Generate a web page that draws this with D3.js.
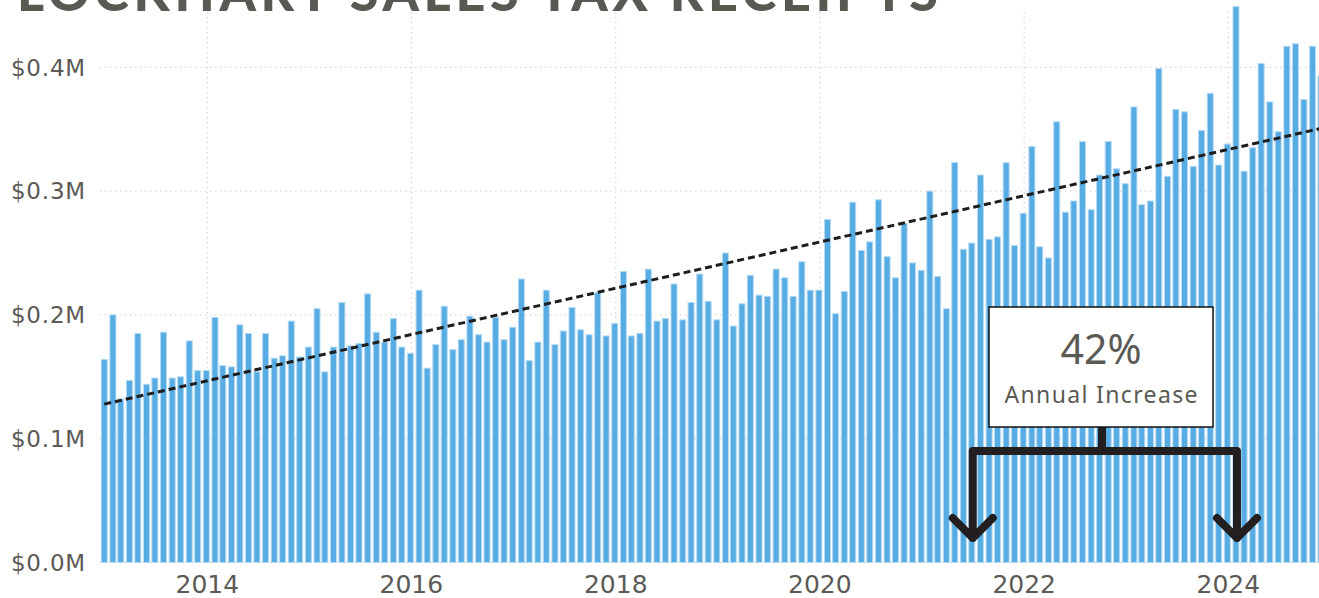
<!DOCTYPE html>
<html>
<head>
<meta charset="utf-8">
<script src="https://cdn.jsdelivr.net/npm/d3@7"></script>
<style>
  body { margin: 0; background: #fff; }
  svg { display: block; }
  .grid line { stroke: #cfcfcf; stroke-width: 1; stroke-dasharray: 1.5 3.5; }
  .axis-label { font-family: "DejaVu Sans", Verdana, sans-serif; fill: #5b5a56; }
</style>
</head>
<body>
<div class="chart"></div>
<script>
// monthly sales tax receipts, in thousands of dollars, Jan 2013 .. Dec 2024
const startYear = 2013;
const receipts2013 = [164, 200, 132, 147, 185, 144, 149, 186, 149, 150, 179, 155];
const receipts2014 = [155, 198, 159, 158, 192, 185, 154, 185, 165, 167, 195, 166];
const receipts2015 = [174, 205, 154, 174, 210, 175, 177, 217, 186, 178, 197, 174];
const receipts2016 = [169, 220, 157, 176, 207, 172, 180, 199, 184, 178, 198, 180];
const receipts2017 = [190, 229, 163, 178, 220, 176, 187, 206, 188, 184, 218, 183];
const receipts2018 = [193, 235, 183, 185, 237, 195, 197, 225, 196, 210, 233, 211];
const receipts2019 = [196, 250, 191, 209, 232, 216, 215, 237, 230, 215, 243, 220];
const receipts2020 = [220, 277, 201, 219, 291, 252, 259, 293, 247, 230, 274, 242];
const receipts2021 = [236, 300, 231, 205, 323, 253, 258, 313, 261, 263, 323, 256];
const receipts2022 = [282, 336, 255, 246, 356, 283, 292, 340, 285, 313, 340, 318];
const receipts2023 = [306, 368, 289, 292, 399, 312, 366, 364, 320, 349, 379, 321];
const receipts2024 = [338, 449, 316, 335, 403, 372, 348, 417, 419, 374, 417, 393];

const yTicks = [0, 100000, 200000, 300000, 400000];
const yearTicks = [2014, 2016, 2018, 2020, 2022, 2024];

const titleText = "LOCKHART SALES TAX RECEIPTS";
const annotationValue = "42%";
const annotationLabel = "Annual Increase";
const annotationFrom = new Date(2021, 6, 1);
const annotationTo = new Date(2024, 1, 1);

const yearly = [receipts2013, receipts2014, receipts2015, receipts2016, receipts2017, receipts2018,
  receipts2019, receipts2020, receipts2021, receipts2022, receipts2023, receipts2024];

let data = [];
yearly.forEach((vals, yi) => {
  vals.forEach((v, m) => {
    data.push({ date: new Date(startYear + yi, m, 1), value: v * 1000 });
  });
});

const width = 1319, height = 598;
const plotLeft = 100;

const svg = d3.select(".chart").append("svg")
  .attr("width", width)
  .attr("height", height);

const xScale = d3.scaleTime()
  .domain([new Date(2014, 0, 1), new Date(2024, 0, 1)])
  .range([207.3, 1228.3]);

const yScale = d3.scaleLinear()
  .domain([0, 400000])
  .range([562.5, 67.3]);

// title, mostly cut off at the top (as in the source crop)
svg.append("text")
  .attr("x", 17)
  .attr("y", 11)
  .attr("textLength", 921)
  .attr("lengthAdjust", "spacing")
  .style("font-family", "Lato, 'Open Sans', sans-serif")
  .style("font-weight", 900)
  .style("font-size", "52px")
  .style("fill", "#5a5852")
  .text(titleText);

// gridlines
const grid = svg.append("g").attr("class", "grid");
grid.selectAll(".hgrid")
  .data(yTicks)
  .enter().append("line")
  .attr("x1", plotLeft)
  .attr("x2", width)
  .attr("y1", d => yScale(d))
  .attr("y2", d => yScale(d));

grid.selectAll(".vgrid")
  .data(yearTicks)
  .enter().append("line")
  .attr("x1", d => xScale(new Date(d, 0, 1)))
  .attr("x2", d => xScale(new Date(d, 0, 1)))
  .attr("y1", 12)
  .attr("y2", yScale(0));

// bars
svg.append("g")
  .selectAll(".bar")
  .data(data)
  .enter().append("rect")
  .attr("class", "bar")
  .attr("x", d => xScale(d.date) - 4)
  .attr("y", d => yScale(d.value))
  .attr("width", 6)
  .attr("height", d => yScale(0) - yScale(d.value))
  .style("fill", "#57ace3")
  .style("stroke", "#b4daf4")
  .style("stroke-width", 1);

// linear trend over the months
const n = data.length;
const xs = d3.range(n);
const mx = d3.mean(xs), my = d3.mean(data, d => d.value);
const slope = d3.sum(xs, i => (i - mx) * (data[i].value - my)) / d3.sum(xs, i => (i - mx) * (i - mx));
const icpt = my - slope * mx;
const trend = [0, n - 1].map(i => ({ date: data[i].date, value: icpt + slope * i }));

svg.append("path")
  .datum(trend)
  .attr("d", d3.line().x(d => xScale(d.date) - 1).y(d => yScale(d.value)))
  .style("fill", "none")
  .style("stroke", "#1e1e1e")
  .style("stroke-width", 3)
  .style("stroke-dasharray", "7 4");

// axes labels
const fmt = d => "$" + d3.format(".1f")(d / 1e6) + "M";
svg.append("g")
  .selectAll("text")
  .data(yTicks)
  .enter().append("text")
  .attr("class", "axis-label")
  .attr("x", 86)
  .attr("y", d => yScale(d))
  .attr("dy", "0.36em")
  .attr("text-anchor", "end")
  .style("font-size", "23px")
  .style("letter-spacing", "0.8px")
  .text(fmt);

svg.append("g")
  .selectAll("text")
  .data(yearTicks)
  .enter().append("text")
  .attr("class", "axis-label")
  .attr("x", d => xScale(new Date(d, 0, 1)))
  .attr("y", 593)
  .attr("text-anchor", "middle")
  .style("font-size", "25px")
  .text(d => d);

// annotation
const ax1 = xScale(annotationFrom), ax2 = xScale(annotationTo);
const boxX = 989, boxY = 307, boxW = 224, boxH = 120;
const midX = boxX + boxW / 2 + 1;
const armY = 451, tipY = 538;

const ann = svg.append("g");
ann.append("path")
  .attr("d", `M${midX},${boxY + boxH} V${armY} M${ax1},${armY} H${ax2} M${ax1},${armY} V${tipY} M${ax2},${armY} V${tipY}` +
    ` M${ax1 - 20},${tipY - 20} L${ax1},${tipY} L${ax1 + 20},${tipY - 20}` +
    ` M${ax2 - 20},${tipY - 20} L${ax2},${tipY} L${ax2 + 20},${tipY - 20}`)
  .style("fill", "none")
  .style("stroke", "#231f20")
  .style("stroke-width", 8)
  .style("stroke-linecap", "round")
  .style("stroke-linejoin", "round");

ann.append("rect")
  .attr("x", boxX)
  .attr("y", boxY)
  .attr("width", boxW)
  .attr("height", boxH)
  .style("fill", "#fff")
  .style("stroke", "#111")
  .style("stroke-width", 1.5);

ann.append("text")
  .attr("x", boxX + boxW / 2)
  .attr("y", 364)
  .attr("text-anchor", "middle")
  .style("font-family", "'Noto Sans', 'Open Sans', sans-serif")
  .style("font-size", "41px")
  .style("fill", "#5a5a55")
  .text(annotationValue);

ann.append("text")
  .attr("x", boxX + boxW / 2)
  .attr("y", 403)
  .attr("text-anchor", "middle")
  .attr("textLength", 193)
  .attr("lengthAdjust", "spacing")
  .style("font-family", "'Noto Sans', 'Open Sans', sans-serif")
  .style("font-size", "23px")
  .style("fill", "#5a5a55")
  .text(annotationLabel);
</script>
</body>
</html>
